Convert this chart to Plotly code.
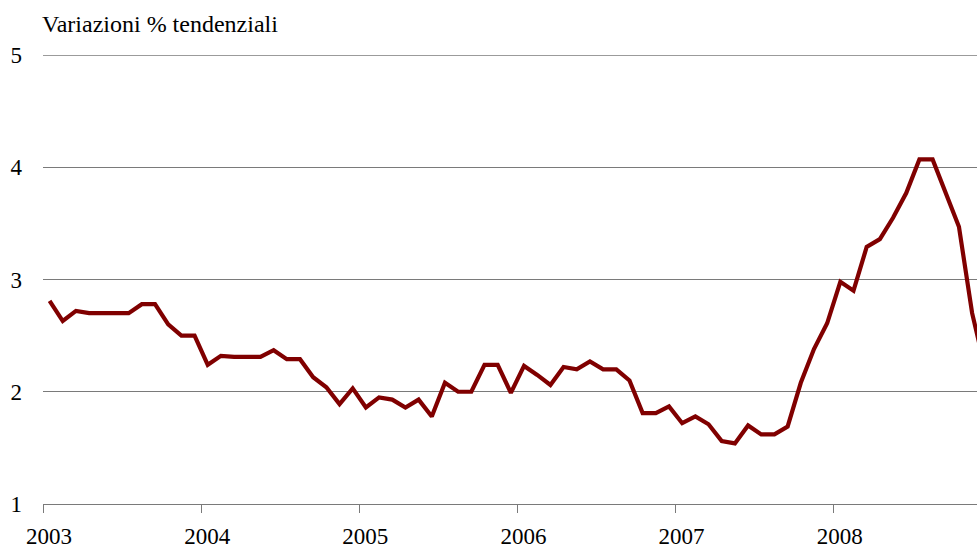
import plotly.graph_objects as go

years = [2003, 2004, 2005, 2006, 2007, 2008]
months = list(range(1, 13))
values_2003 = [2.81, 2.63, 2.72, 2.70, 2.70, 2.70, 2.70, 2.78, 2.78, 2.60, 2.50, 2.50]
values_2004 = [2.24, 2.32, 2.31, 2.31, 2.31, 2.37, 2.29, 2.29, 2.13, 2.04, 1.89, 2.03]
values_2005 = [1.86, 1.95, 1.93, 1.86, 1.93, 1.78, 2.08, 2.00, 2.00, 2.24, 2.24, 1.99]
values_2006 = [2.23, 2.15, 2.06, 2.22, 2.20, 2.27, 2.20, 2.20, 2.10, 1.81, 1.81, 1.87]
values_2007 = [1.72, 1.78, 1.71, 1.56, 1.54, 1.70, 1.62, 1.62, 1.69, 2.08, 2.38, 2.61]
values_2008 = [2.98, 2.90, 3.29, 3.36, 3.55, 3.77, 4.07, 4.07, 3.77, 3.47, 2.70, 2.20]
year_labels = ["2003", "2004", "2005", "2006", "2007", "2008"]
y_ticks = [1, 2, 3, 4, 5]
title_text = "Variazioni % tendenziali"

all_values = [values_2003, values_2004, values_2005, values_2006, values_2007, values_2008]
x = []
y = []
for yr, vals in zip(years, all_values):
    for m, v in zip(months, vals):
        x.append(yr + (m - 0.5) / 12)
        y.append(v)

FONT = "Liberation Serif, Times New Roman, serif"
GRID = "#7a7a7a"

fig = go.Figure()
fig.add_trace(go.Scatter(x=x, y=y, mode="lines",
                         line=dict(color="#800000", width=4.2),
                         hoverinfo="skip", showlegend=False))

fig.update_layout(
    width=977, height=549,
    margin=dict(l=43, r=0, t=55, b=45, pad=0),
    paper_bgcolor="white", plot_bgcolor="white",
    font=dict(family=FONT, size=23, color="black"),
    xaxis=dict(
        range=[2003, 2003 + 934.3 / 158.2],
        tickvals=years, ticktext=year_labels,
        ticks="outside", ticklen=8, tickcolor=GRID, tickwidth=1.3,
        ticklabelshift=6, ticklabelstandoff=3,
        showline=True, linecolor=GRID, linewidth=1.3,
        showgrid=False, zeroline=False, automargin=False,
        tickfont=dict(family=FONT, size=23),
    ),
    yaxis=dict(
        range=[1, 5], tickvals=y_ticks,
        showgrid=True, gridcolor=GRID, gridwidth=1.3,
        showline=False, zeroline=False, ticks="",
        ticklabelstandoff=20, automargin=False,
        tickfont=dict(family=FONT, size=23),
    ),
    shapes=[dict(type="line", xref="paper", yref="y", x0=0, x1=1,
                 y0=y_ticks[-1], y1=y_ticks[-1], layer="below",
                 line=dict(color=GRID, width=1.3))],
    annotations=[dict(text=title_text, xref="paper", yref="paper",
                      x=0, y=1, xanchor="left", yanchor="bottom",
                      yshift=16, xshift=-3, showarrow=False,
                      font=dict(family=FONT, size=24))],
)

fig.write_html("out.html", config={"displayModeBar": False},
               post_script="document.body.style.margin='0';document.body.style.padding='0';")
